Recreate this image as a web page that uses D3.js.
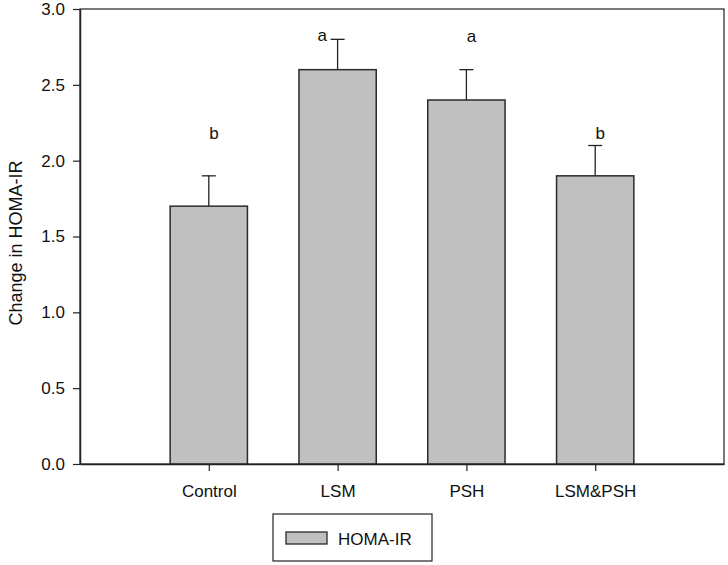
<!DOCTYPE html>
<html lang="en">
<head>
<meta charset="UTF-8">
<title>Change in HOMA-IR</title>
<script src="https://d3js.org/d3.v7.min.js"></script>
<style>
    body { margin: 0; padding: 0; background: #fff; }
    svg { display: block; }
    text { font-family: Arial, "Liberation Sans", sans-serif; fill: #111; }
</style>
</head>
<body>
<div id="chart"></div>
<script>
    const categories = ["Control", "LSM", "PSH", "LSM&PSH"];
    const values = [1.7, 2.6, 2.4, 1.9];
    const errors = [0.2, 0.2, 0.2, 0.2];
    const letters = ["b", "a", "a", "b"];
    // letter anchor: x in category units, y in data units
    const letterX = [1.04, 1.88, 3.04, 4.04];
    const letterY = [2.14, 2.79, 2.78, 2.145];
    const yTicks = [0, 0.5, 1.0, 1.5, 2.0, 2.5, 3.0];

    const width = 728, height = 565;
    const plotL = 80, plotR = 724, plotT = 9, plotB = 464;

    const svg = d3.select("#chart").append("svg")
        .attr("width", width)
        .attr("height", height);

    const x = d3.scaleLinear().domain([0, 5]).range([plotL, plotR]);
    const y = d3.scaleLinear().domain([0, 3]).range([plotB, plotT]);
    const barW = (x(1) - x(0)) * 0.6;

    // frame
    svg.append("rect")
        .attr("x", plotL).attr("y", plotT)
        .attr("width", plotR - plotL).attr("height", plotB - plotT)
        .attr("fill", "none").attr("stroke", "#222").attr("stroke-width", 1.2);

    // error bars
    svg.append("g").selectAll("g")
        .data(categories)
        .enter().append("g")
        .each(function (d, i) {
            const g = d3.select(this);
            const cx = x(i + 1);
            g.append("line")
                .attr("x1", cx).attr("x2", cx)
                .attr("y1", y(values[i])).attr("y2", y(values[i] + errors[i]))
                .attr("stroke", "#222").attr("stroke-width", 1.3);
            g.append("line")
                .attr("x1", cx - 7).attr("x2", cx + 7)
                .attr("y1", y(values[i] + errors[i])).attr("y2", y(values[i] + errors[i]))
                .attr("stroke", "#222").attr("stroke-width", 1.3);
        });

    // bars
    svg.append("g").selectAll("rect")
        .data(values)
        .enter().append("rect")
        .attr("x", (d, i) => x(i + 1) - barW / 2)
        .attr("y", d => y(d))
        .attr("width", barW)
        .attr("height", d => y(0) - y(d))
        .attr("fill", "#c0c0c0")
        .attr("stroke", "#2a2a2a")
        .attr("stroke-width", 1.5);

    // letters
    svg.append("g").selectAll("text")
        .data(letters)
        .enter().append("text")
        .attr("x", (d, i) => x(letterX[i]))
        .attr("y", (d, i) => y(letterY[i]))
        .attr("text-anchor", "middle")
        .attr("font-size", 17)
        .text(d => d);

    // y axis
    const yAxis = svg.append("g")
        .attr("transform", `translate(${plotL},0)`)
        .call(d3.axisLeft(y).tickValues(yTicks).tickFormat(d3.format(".1f")).tickSize(7).tickSizeOuter(0).tickPadding(8));
    yAxis.select(".domain").attr("stroke", "#222").attr("stroke-width", 1.5);
    yAxis.selectAll(".tick line").attr("stroke", "#222").attr("stroke-width", 1.2);
    yAxis.selectAll(".tick text").attr("font-size", 17).attr("font-family", "Arial, 'Liberation Sans', sans-serif").attr("fill", "#111");

    // x axis
    const xAxis = svg.append("g")
        .attr("transform", `translate(0,${plotB})`)
        .call(d3.axisBottom(x).tickValues([1, 2, 3, 4]).tickFormat(d => categories[d - 1]).tickSize(7).tickSizeOuter(0).tickPadding(14));
    xAxis.select(".domain").attr("stroke", "#222").attr("stroke-width", 1.5);
    xAxis.selectAll(".tick line").attr("stroke", "#222").attr("stroke-width", 1.2);
    xAxis.selectAll(".tick text").attr("font-size", 17).attr("font-family", "Arial, 'Liberation Sans', sans-serif").attr("fill", "#111");

    // y label
    svg.append("text")
        .attr("transform", `translate(22,243) rotate(-90)`)
        .attr("text-anchor", "middle")
        .attr("font-size", 18)
        .text("Change in HOMA-IR");

    // legend
    const legend = svg.append("g");
    legend.append("rect")
        .attr("x", 273).attr("y", 514).attr("width", 159).attr("height", 47)
        .attr("fill", "#fff").attr("stroke", "#222").attr("stroke-width", 1.2);
    legend.append("rect")
        .attr("x", 286).attr("y", 532).attr("width", 41).attr("height", 12)
        .attr("fill", "#c0c0c0").attr("stroke", "#2a2a2a").attr("stroke-width", 1.3);
    legend.append("text")
        .attr("x", 338).attr("y", 545)
        .attr("font-size", 17)
        .text("HOMA-IR");
</script>
</body>
</html>
